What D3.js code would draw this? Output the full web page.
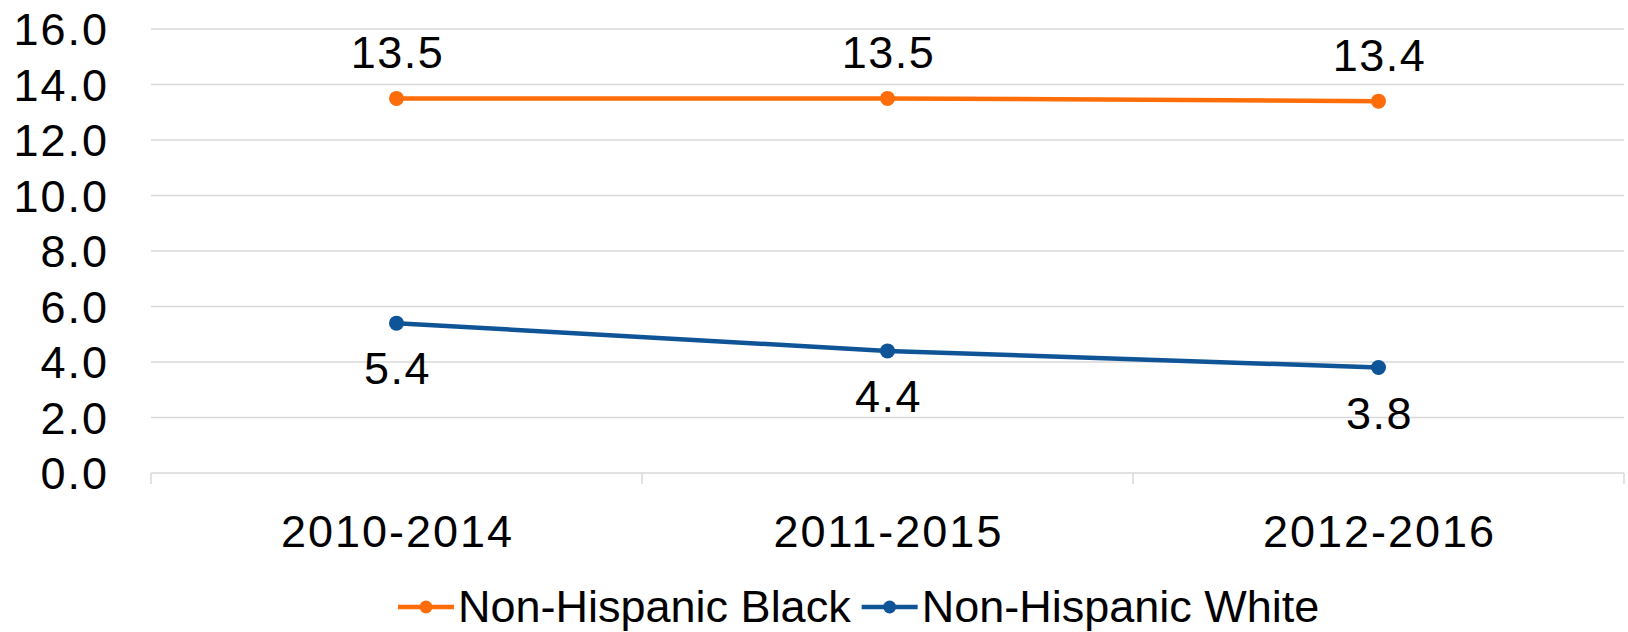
<!DOCTYPE html>
<html>
<head>
<meta charset="utf-8">
<script src="https://cdn.jsdelivr.net/npm/d3@7"></script>
<style>
  html, body { margin: 0; padding: 0; background: #fff; }
  svg { display: block; }
  text { font-family: "Liberation Sans", Arial, sans-serif; fill: #000; }
  .grid line { stroke: #d9d9d9; stroke-width: 1.5; }
  .num { letter-spacing: 2px; }
</style>
</head>
<body>
<svg id="chart" width="1628" height="632"></svg>
<script>
// chart data
const categories = ['2010-2014', '2011-2015', '2012-2016'];
const blackValues = [13.5, 13.5, 13.4];
const whiteValues = [5.4, 4.4, 3.8];
const yTicks = [0, 2, 4, 6, 8, 10, 12, 14, 16];

const series = [
    { name: 'Non-Hispanic Black', values: blackValues, color: '#ff6d0a', labelPos: 'above' },
    { name: 'Non-Hispanic White', values: whiteValues, color: '#0f5497', labelPos: 'below' },
];

const plot = { left: 151, right: 1624, top: 29, bottom: 473 };
const fontSize = 45;

const svg = d3.select('#chart');

const x = d3.scaleBand()
    .domain(categories)
    .range([plot.left, plot.right]);

const y = d3.scaleLinear()
    .domain([0, 16])
    .range([plot.bottom, plot.top]);

// horizontal gridlines
svg.append('g')
    .attr('class', 'grid')
    .selectAll('line')
    .data(yTicks)
    .enter()
    .append('line')
    .attr('x1', plot.left)
    .attr('x2', plot.right)
    .attr('y1', d => y(d))
    .attr('y2', d => y(d));

// y axis labels
svg.append('g')
    .selectAll('text')
    .data(yTicks)
    .enter()
    .append('text')
    .attr('class', 'num')
    .attr('x', 109)
    .attr('y', d => y(d))
    .attr('dy', '0.36em')
    .attr('text-anchor', 'end')
    .style('font-size', fontSize + 'px')
    .text(d => d.toFixed(1));

// category tick marks below the axis
const tickXs = categories.map(c => x(c)).concat([plot.right]);
svg.append('g')
    .selectAll('line')
    .data(tickXs)
    .enter()
    .append('line')
    .attr('x1', d => d)
    .attr('x2', d => d)
    .attr('y1', plot.bottom)
    .attr('y2', plot.bottom + 11)
    .attr('stroke', '#d9d9d9')
    .attr('stroke-width', 1.5);

// x axis labels
svg.append('g')
    .selectAll('text')
    .data(categories)
    .enter()
    .append('text')
    .attr('class', 'num')
    .attr('x', d => x(d) + x.bandwidth() / 2 + 1)
    .attr('y', 547)
    .attr('text-anchor', 'middle')
    .style('font-size', fontSize + 'px')
    .text(d => d);

const line = d3.line()
    .x((d, i) => x(categories[i]) + x.bandwidth() / 2)
    .y(d => y(d));

series.forEach(s => {
    const g = svg.append('g');
    g.append('path')
        .datum(s.values)
        .attr('fill', 'none')
        .attr('stroke', s.color)
        .attr('stroke-width', 4.5)
        .attr('d', line);

    g.selectAll('circle')
        .data(s.values)
        .enter()
        .append('circle')
        .attr('cx', (d, i) => x(categories[i]) + x.bandwidth() / 2)
        .attr('cy', d => y(d))
        .attr('r', 7.5)
        .attr('fill', s.color);

    g.selectAll('text')
        .data(s.values)
        .enter()
        .append('text')
        .attr('x', (d, i) => x(categories[i]) + x.bandwidth() / 2 + 1)
        .attr('y', d => s.labelPos === 'above' ? y(d) - 30 : y(d) + 61)
        .attr('text-anchor', 'middle')
        .style('font-size', fontSize + 'px')
        .style('letter-spacing', '1.5px')
        .text(d => d.toFixed(1));
});

// legend
const legend = svg.append('g');
let lx = 398;
const ly = 607;
series.forEach(s => {
    legend.append('line')
        .attr('x1', lx).attr('x2', lx + 56)
        .attr('y1', ly).attr('y2', ly)
        .attr('stroke', s.color)
        .attr('stroke-width', 4.5);
    legend.append('circle')
        .attr('cx', lx + 28).attr('cy', ly)
        .attr('r', 6.5)
        .attr('fill', s.color);
    const t = legend.append('text')
        .attr('x', lx + 60)
        .attr('y', 622)
        .style('font-size', fontSize + 'px')
        .text(s.name);
    lx += 60 + t.node().getComputedTextLength() + 11;
});
</script>
</body>
</html>
